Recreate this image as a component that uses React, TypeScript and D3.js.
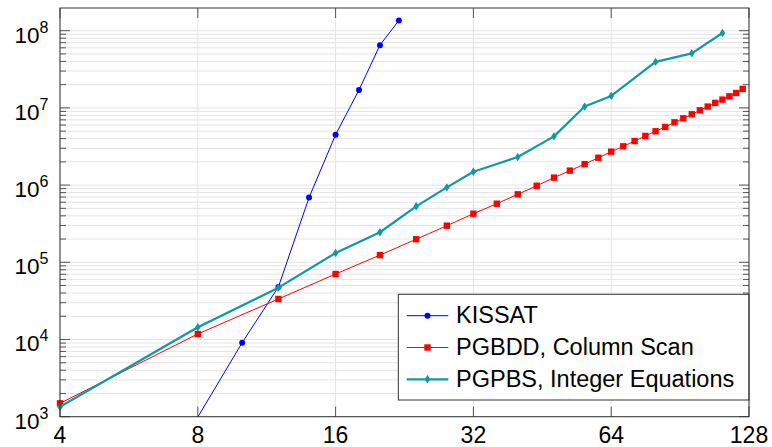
import { useEffect, useRef } from 'react';
import * as d3 from 'd3';

const kissatN = [8, 10, 12, 14, 16, 18, 20, 22];
const kissatV = [990, 9100, 48000, 690000, 4500000, 17100000, 65000000, 136000000];

const pgbddN = [4, 8, 12, 16, 20, 24, 28, 32, 36, 40, 44, 48, 52, 56, 60, 64, 68, 72, 76, 80, 84, 88, 92, 96, 100, 104, 108, 112, 116, 120, 124];
const pgbddV = [
  1490, 11800, 33500, 70500, 124000, 199000, 298000, 426000, 574000, 760000, 980000,
  1250000, 1540000, 1870000, 2260000, 2710000, 3180000, 3720000, 4330000, 4980000,
  5660000, 6500000, 7330000, 8260000, 9300000, 10400000, 11600000, 12800000, 14100000,
  15600000, 17600000,
];

const pgpbsN = [4, 8, 12, 16, 20, 24, 28, 32, 40, 48, 56, 64, 80, 96, 112];
const pgpbsV = [
  1340, 14400, 46900, 132000, 245000, 531000, 935000, 1490000, 2310000, 4280000,
  10400000, 14300000, 39400000, 50900000, 93300000,
];

const xTicks = [4, 8, 16, 32, 64, 128];
const yExps = [3, 4, 5, 6, 7, 8];
const legendLabels = ['KISSAT', 'PGBDD, Column Scan', 'PGPBS, Integer Equations'];

const FONT = '"Liberation Sans", Arial, sans-serif';

const Chart = ({ width = 772, height = 447 }) => {
  const svgRef = useRef<SVGSVGElement>(null);
  const margin = { top: 8, right: 23, bottom: 30.3, left: 60 };

  useEffect(() => {
    if (!svgRef.current) return;
    const svg = d3.select(svgRef.current);
    svg.selectAll('*').remove();

    const x0 = margin.left;
    const x1 = width - margin.right;
    const y0 = height - margin.bottom;
    const y1 = margin.top;

    const x = d3.scaleLog().base(2).domain([4, 128]).range([x0, x1]);
    const y = d3.scaleLog().domain([1e3, Math.pow(10, 8.294)]).range([y0, y1]);
    const [yMin, yMax] = y.domain();

    svg.append('defs').append('clipPath').attr('id', 'plot-clip')
      .append('rect').attr('x', x0).attr('y', y1).attr('width', x1 - x0).attr('height', y0 - y1);

    // grid
    const grid = svg.append('g').attr('stroke', '#e4e4e4').attr('stroke-width', 1);
    const hVals: number[] = [];
    yExps.forEach(e => {
      for (let m = 1; m <= 9; m++) {
        const v = m * Math.pow(10, e);
        if (v >= yMin && v <= yMax) hVals.push(v);
      }
    });
    hVals.forEach(v => {
      grid.append('line').attr('x1', x0).attr('x2', x1).attr('y1', y(v)).attr('y2', y(v));
    });
    xTicks.forEach(t => {
      grid.append('line').attr('x1', x(t)).attr('x2', x(t)).attr('y1', y1).attr('y2', y0);
    });

    // series
    const series = [
      { n: kissatN, v: kissatV, color: '#0000ff', w: 1, mark: 'circle' },
      { n: pgbddN, v: pgbddV, color: '#ff0000', w: 1, mark: 'square' },
      { n: pgpbsN, v: pgpbsV, color: '#0e9aa5', w: 2.2, mark: 'diamond' },
    ];

    const line = d3.line<[number, number]>().x(d => x(d[0])).y(d => y(d[1]));
    const drawMark = (g: any, mark: string, cx: number, cy: number, color: string) => {
      if (mark === 'circle') {
        g.append('circle').attr('cx', cx).attr('cy', cy).attr('r', 3).attr('fill', color);
      } else if (mark === 'square') {
        g.append('rect').attr('x', cx - 3.2).attr('y', cy - 3.2).attr('width', 6.4).attr('height', 6.4).attr('fill', color);
      } else {
        g.append('path')
          .attr('d', `M${cx},${cy - 4.2}L${cx + 2.8},${cy}L${cx},${cy + 4.2}L${cx - 2.8},${cy}Z`)
          .attr('fill', color);
      }
    };

    series.forEach(s => {
      const pts = s.n.map((n, i) => [n, s.v[i]] as [number, number]);
      svg.append('path')
        .attr('clip-path', 'url(#plot-clip)')
        .attr('d', line(pts))
        .attr('fill', 'none')
        .attr('stroke', s.color)
        .attr('stroke-width', s.w)
        .attr('stroke-linejoin', 'round');
      const mg = svg.append('g');
      pts.filter(p => p[1] >= yMin && p[1] <= yMax).forEach(p => {
        drawMark(mg, s.mark, x(p[0]), y(p[1]), s.color);
      });
    });

    // ticks
    const ticks = svg.append('g').attr('stroke', '#555').attr('stroke-width', 1);
    xTicks.forEach(t => {
      ticks.append('line').attr('x1', x(t)).attr('x2', x(t)).attr('y1', y0).attr('y2', y0 - 10);
      ticks.append('line').attr('x1', x(t)).attr('x2', x(t)).attr('y1', y1).attr('y2', y1 + 10);
    });
    hVals.forEach(v => {
      const major = Math.abs(Math.log10(v) - Math.round(Math.log10(v))) < 1e-9;
      const len = major ? 10 : 6;
      ticks.append('line').attr('x1', x0).attr('x2', x0 + len).attr('y1', y(v)).attr('y2', y(v));
      ticks.append('line').attr('x1', x1).attr('x2', x1 - len).attr('y1', y(v)).attr('y2', y(v));
    });

    // legend
    const lg = svg.append('g');
    const lx = 398.3, ly = 294.3, lw = x1 - 398.3, lh = 105.7;
    lg.append('rect').attr('x', lx).attr('y', ly).attr('width', lw).attr('height', lh)
      .attr('fill', '#fff').attr('stroke', '#333').attr('stroke-width', 1);
    series.forEach((s, i) => {
      const ry = 315.7 + i * 31.8;
      lg.append('line').attr('x1', 406.7).attr('x2', 448.3).attr('y1', ry).attr('y2', ry)
        .attr('stroke', s.color).attr('stroke-width', s.w);
      drawMark(lg, s.mark, 427.5, ry, s.color);
      lg.append('text').attr('x', 456).attr('y', ry + 7.5)
        .attr('font-family', FONT).attr('font-size', 23.5).attr('fill', '#000')
        .text(legendLabels[i]);
    });

    // frame
    svg.append('rect').attr('x', x0).attr('y', y1).attr('width', x1 - x0).attr('height', y0 - y1)
      .attr('fill', 'none').attr('stroke', '#333').attr('stroke-width', 1);

    // tick labels
    const labels = svg.append('g').attr('font-family', FONT).attr('fill', '#000');
    xTicks.forEach(t => {
      labels.append('text').attr('x', x(t)).attr('y', 443).attr('text-anchor', 'middle')
        .attr('font-size', 23).text(t);
    });
    yExps.forEach(e => {
      const t = labels.append('text').attr('x', 48.5).attr('y', y(Math.pow(10, e)) + 12)
        .attr('text-anchor', 'end').attr('font-size', 22.5);
      t.append('tspan').text('10');
      t.append('tspan').attr('dy', -10).attr('font-size', 16).text(e);
    });
  }, [width, height]);

  return <svg ref={svgRef} width={width} height={height} style={{ display: 'block' }} />;
};

export default function App() {
  return (
    <div style={{ position: 'absolute', left: 0, top: 0, background: '#fff' }}>
      <Chart />
    </div>
  );
}
